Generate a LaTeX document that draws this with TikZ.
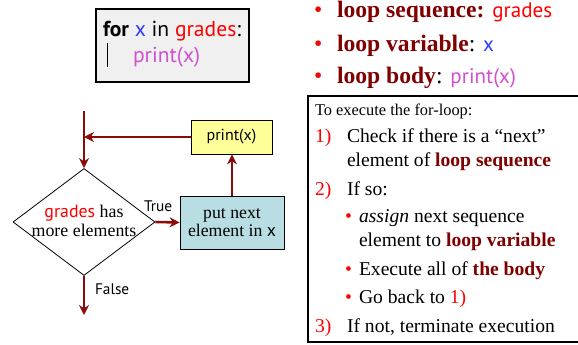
\documentclass[tikz,border=0pt]{standalone}
\usepackage{fontspec}
\setmainfont{Liberation Serif}
\setsansfont{PT Sans}
\usetikzlibrary{shapes.geometric,arrows.meta}
\definecolor{arrowc}{HTML}{8B0A0A}
\definecolor{darkred}{HTML}{7F0000}
\definecolor{codered}{HTML}{FF0000}
\definecolor{codeblue}{HTML}{2A3BFF}
\definecolor{codepink}{HTML}{D050D0}
\definecolor{yellowf}{HTML}{FFFF99}
\definecolor{cyanf}{HTML}{B8DEE3}
\definecolor{grayf}{HTML}{F0F0F0}
\newcommand\mycode[2]{{\sffamily\color{#1}#2}}
\newcommand\bigcode[2]{{\fontsize{15.8}{15.8}\selectfont\sffamily\color{#1}#2}}
\newcommand\myfs[1]{\fontsize{#1}{#1}\selectfont}
\tikzset{
  txt/.style={anchor=base west, inner sep=0pt, outer sep=0pt},
  arr/.style={draw=arrowc, line width=1.9pt, -{Stealth[length=7.5pt,width=7.5pt]}},
  flowbox/.style={draw=black, line width=0.6pt, inner sep=0pt},
}
\begin{document}
\begin{tikzpicture}[x=0.75pt,y=-0.75pt]
\useasboundingbox (0,0) rectangle (578,345);

% code box
\node[draw=black, line width=1.6pt, fill=grayf, minimum width=114.75pt, minimum height=54.75pt, inner sep=0pt] (code) at (172.5,45.5) {};
\node[txt, font=\myfs{16.2}\sffamily] (line1) at (103,37) {\textbf{for} \mycode{codeblue}{x} in \mycode{codered}{grades}:};
\draw[line width=0.6pt] (107,43) -- (107,67);
\node[txt, font=\myfs{16.2}\sffamily, text=codepink] (line2) at (133,63) {print(x)};

% flowchart
\coordinate (top) at (84,111);
\coordinate (end) at (84,315);
\node[diamond, flowbox, minimum width=106.5pt, minimum height=80.25pt] (dec) at (84,222) {};
\node[align=center, font=\myfs{13.4}, inner sep=0pt] (dectext) at (84,221) {\mycode{codered}{grades} has\\[1pt]more elements};
\node[flowbox, fill=yellowf, minimum width=60.75pt, minimum height=25.5pt, font=\myfs{12}\sffamily] (print) at (231.5,137) {print(x)};
\node[flowbox, fill=cyanf, minimum width=78pt, minimum height=39.75pt, align=center, font=\myfs{13.3}] (put) at (232,222.5) {put next\\element in \mycode{black}{x}};

\draw[arr] (top) -- (dec.north);
\draw[arr] (print.west) -- (print.west -| top);
\draw[arr] (dec.east) -- (put.west);
\draw[arr] (put.north) -- (put.north |- print.south);
\draw[arr] (dec.south) -- (end);
\node[txt, font=\myfs{11.5}\sffamily] (true) at (144,212) {True};
\node[txt, font=\myfs{11.5}\sffamily] (false) at (95,295) {False};

% bullets top right
\node[txt, font=\myfs{17.7}, text=codered] (d1) at (314,18) {•};
\node[txt, font=\myfs{17.7}] (b1) at (337,18) {\textbf{\color{darkred}loop sequence:} \bigcode{codered}{grades}};
\node[txt, font=\myfs{17.7}, text=codered] (d2) at (314,52) {•};
\node[txt, font=\myfs{17.7}] (b2) at (337,52) {\textbf{\color{darkred}loop variable}: \bigcode{codeblue}{x}};
\node[txt, font=\myfs{17.7}, text=codered] (d3) at (314,84) {•};
\node[txt, font=\myfs{17.7}] (b3) at (337,84) {\textbf{\color{darkred}loop body}: \bigcode{codepink}{print(x)}};

% explanation box
\draw[line width=0.8pt] (590,96) -- (308,96) -- (308,342) -- (590,342);
\node[txt, font=\myfs{12.3}] (t0) at (315,116) {To execute the for-loop:};
\node[txt, font=\myfs{14.7}, text=codered] (n1) at (315,143) {1)};
\node[txt, font=\myfs{14.7}] (t1) at (347,143) {Check if there is a “next”};
\node[txt, font=\myfs{14.7}] (t1b) at (347,167) {element of \textbf{\color{darkred}loop sequence}};
\node[txt, font=\myfs{14.7}, text=codered] (n2) at (315,196) {2)};
\node[txt, font=\myfs{14.7}] (t2) at (347,196) {If so:};
\node[txt, font=\myfs{14.7}, text=codered] (e1) at (345,223) {•};
\node[txt, font=\myfs{14.7}] (t3) at (359,223) {\textit{assign} next sequence};
\node[txt, font=\myfs{14.7}] (t3b) at (359,247) {element to \textbf{\color{darkred}loop variable}};
\node[txt, font=\myfs{14.7}, text=codered] (e2) at (345,276) {•};
\node[txt, font=\myfs{14.7}] (t4) at (359,276) {Execute all of \textbf{\color{darkred}the body}};
\node[txt, font=\myfs{14.7}, text=codered] (e3) at (345,303) {•};
\node[txt, font=\myfs{14.7}] (t5) at (359,303) {Go back to \textcolor{codered}{1)}};
\node[txt, font=\myfs{14.7}, text=codered] (n3) at (315,332) {3)};
\node[txt, font=\myfs{14.7}] (t6) at (347,332) {If not, terminate execution};
\end{tikzpicture}
\end{document}
